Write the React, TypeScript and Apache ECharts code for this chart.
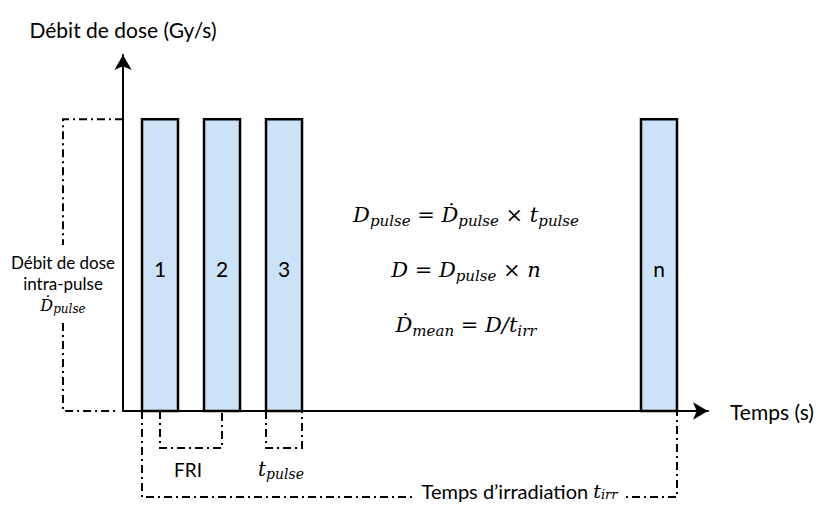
import React, { useEffect, useRef } from "react";
import * as echarts from "echarts";

// ---- data ----
const pulseLabels = ["1", "2", "3", "n"];
const pulseStart = [3.25, 13.85, 24.45, 88.55];
const pulseWidth = 6.15;
const pulseRate = 1; // intra-pulse dose rate (normalised)
const xMax = 100;
const yMax = 1.22;

const formulas = [
  "{i|D}{s|pulse}{n| = }{i|Ḋ}{s|pulse}{n| × }{i|t}{s|pulse}",
  "{i|D}{n| = }{i|D}{s|pulse}{n| × }{i|n}",
  "{i|Ḋ}{s|mean}{n| = }{i|D/t}{s|irr}",
];

const SANS = "Lato";
const SERIF = "DejaVu Serif";

const mathRich = (size: number, sub: number, pad: number, tsize?: number) => ({
  i: { fontFamily: SERIF, fontStyle: "italic", fontSize: size, color: "#000", lineHeight: size + 6 },
  n: { fontFamily: SERIF, fontSize: size, color: "#000", lineHeight: size + 6 },
  s: { fontFamily: SERIF, fontStyle: "italic", fontSize: sub, color: "#000", padding: [pad, 0, 0, 0] },
  t: { fontFamily: SANS, fontSize: tsize || size, color: "#000", lineHeight: size + 6 },
});

export default function App() {
  const ref = useRef<HTMLDivElement>(null);

  useEffect(() => {
    if (!ref.current) return;
    const chart = echarts.init(ref.current, null, { renderer: "svg" });
    const dash = [8, 4, 2, 4];
    const dl = { stroke: "#000", lineWidth: 2, lineDash: dash, fill: "none" };

    const option: any = {
      animation: false,
      backgroundColor: "#fff",
      grid: { left: 123, right: 110, top: 55, bottom: 95 },
      xAxis: {
        type: "value",
        min: 0,
        max: xMax,
        name: "Temps (s)",
        nameLocation: "end",
        nameGap: 22,
        nameTextStyle: { fontFamily: SANS, fontSize: 21, color: "#000" },
        axisLine: { show: true, symbol: ["none", "arrow"], symbolSize: [13, 15], lineStyle: { color: "#000", width: 2 } },
        axisTick: { show: false },
        axisLabel: { show: false },
        splitLine: { show: false },
      },
      yAxis: {
        type: "value",
        min: 0,
        max: yMax,
        name: "Débit de dose (Gy/s)",
        nameLocation: "end",
        nameGap: 15,
        nameTextStyle: { fontFamily: SANS, fontSize: 21, color: "#000" },
        axisLine: { show: true, symbol: ["none", "arrow"], symbolSize: [13, 15], lineStyle: { color: "#000", width: 2 } },
        axisTick: { show: false },
        axisLabel: { show: false },
        splitLine: { show: false },
      },
      graphic: formulas.map((f, k) => ({
        type: "text",
        x: 466,
        y: 215 + k * 55,
        style: {
          text: f,
          align: "center",
          verticalAlign: "middle",
          rich: mathRich(21, 15, 12),
        },
      })),
      series: [
        {
          type: "custom",
          clip: false,
          z: 1,
          data: pulseStart.map((s) => [s, s + pulseWidth, pulseRate]),
          encode: { x: [0, 1], y: 2 },
          renderItem: (params: any, api: any) => {
            const p0 = api.coord([api.value(0), api.value(2)]);
            const p1 = api.coord([api.value(1), 0]);
            return {
              type: "group",
              children: [
                {
                  type: "rect",
                  shape: { x: p0[0], y: p0[1], width: p1[0] - p0[0], height: p1[1] - p0[1] },
                  style: { fill: "#cce2f6", stroke: "#000", lineWidth: 2.5 },
                },
                {
                  type: "text",
                  x: (p0[0] + p1[0]) / 2,
                  y: (p0[1] + p1[1]) / 2 + 3,
                  style: {
                    text: pulseLabels[params.dataIndex],
                    fontFamily: SANS,
                    fontSize: 21,
                    fill: "#000",
                    align: "center",
                    verticalAlign: "middle",
                  },
                },
              ],
            };
          },
        },
        {
          type: "custom",
          clip: false,
          z: 2,
          silent: true,
          data: [[0, 0]],
          renderItem: (_params: any, api: any) => {
            const o = api.coord([0, 0]);
            const top = api.coord([0, pulseRate]);
            const leftX = o[0] - 60;
            const midY = (o[1] + top[1]) / 2;
            const mid = (i: number) => api.coord([pulseStart[i] + pulseWidth / 2, 0])[0];
            const st = (i: number) => api.coord([pulseStart[i], 0])[0];
            const en = (i: number) => api.coord([pulseStart[i] + pulseWidth, 0])[0];
            const last = pulseStart.length - 1;
            const yb1 = o[1] + 37;
            const yb2 = o[1] + 86;
            const irrL = st(0);
            const irrR = en(last);
            return {
              type: "group",
              children: [
                { type: "polyline", shape: { points: [[o[0], top[1]], [leftX, top[1]], [leftX, midY - 20]] }, style: dl },
                { type: "polyline", shape: { points: [[leftX, midY + 58], [leftX, o[1]], [o[0] - 6, o[1]]] }, style: dl },
                {
                  type: "text",
                  x: leftX,
                  y: midY + 8,
                  style: {
                    text: "Débit de dose\nintra-pulse",
                    fontFamily: SANS,
                    fontSize: 17,
                    lineHeight: 21,
                    fill: "#000",
                    align: "center",
                    verticalAlign: "middle",
                  },
                },
                {
                  type: "text",
                  x: leftX,
                  y: midY + 40,
                  style: { text: "{i|Ḋ}{s|pulse}", align: "center", verticalAlign: "middle", rich: mathRich(16, 12, 8) },
                },
                { type: "polyline", shape: { points: [[mid(0), o[1]], [mid(0), yb1], [mid(1), yb1], [mid(1), o[1]]] }, style: dl },
                {
                  type: "text",
                  x: (mid(0) + mid(1)) / 2 - 3,
                  y: o[1] + 58,
                  style: { text: "FRI", fontFamily: SANS, fontSize: 19, fill: "#000", align: "center", verticalAlign: "middle" },
                },
                { type: "polyline", shape: { points: [[st(2), o[1]], [st(2), yb1], [en(2), yb1], [en(2), o[1]]] }, style: dl },
                {
                  type: "text",
                  x: mid(2) - 3,
                  y: o[1] + 58,
                  style: { text: "{i|t}{s|pulse}", align: "center", verticalAlign: "middle", rich: mathRich(20, 14, 10) },
                },
                { type: "polyline", shape: { points: [[irrL, o[1]], [irrL, yb2], [irrR, yb2], [irrR, o[1]]] }, style: dl },
                {
                  type: "text",
                  x: (irrL + irrR) / 2 + 110,
                  y: yb2 - 6,
                  style: {
                    text: "{t|Temps d’irradiation }{i|t}{s|irr}",
                    align: "center",
                    verticalAlign: "middle",
                    backgroundColor: "#fff",
                    padding: [0, 7, 0, 7],
                    rich: mathRich(19, 13, 7, 20),
                  },
                },
              ],
            };
          },
        },
      ],
    };
    chart.setOption(option);
    return () => chart.dispose();
  }, []);

  return (
    <div
      ref={ref}
      style={{ position: "fixed", left: 0, top: 0, width: 818, height: 506, background: "#fff" }}
    />
  );
}
